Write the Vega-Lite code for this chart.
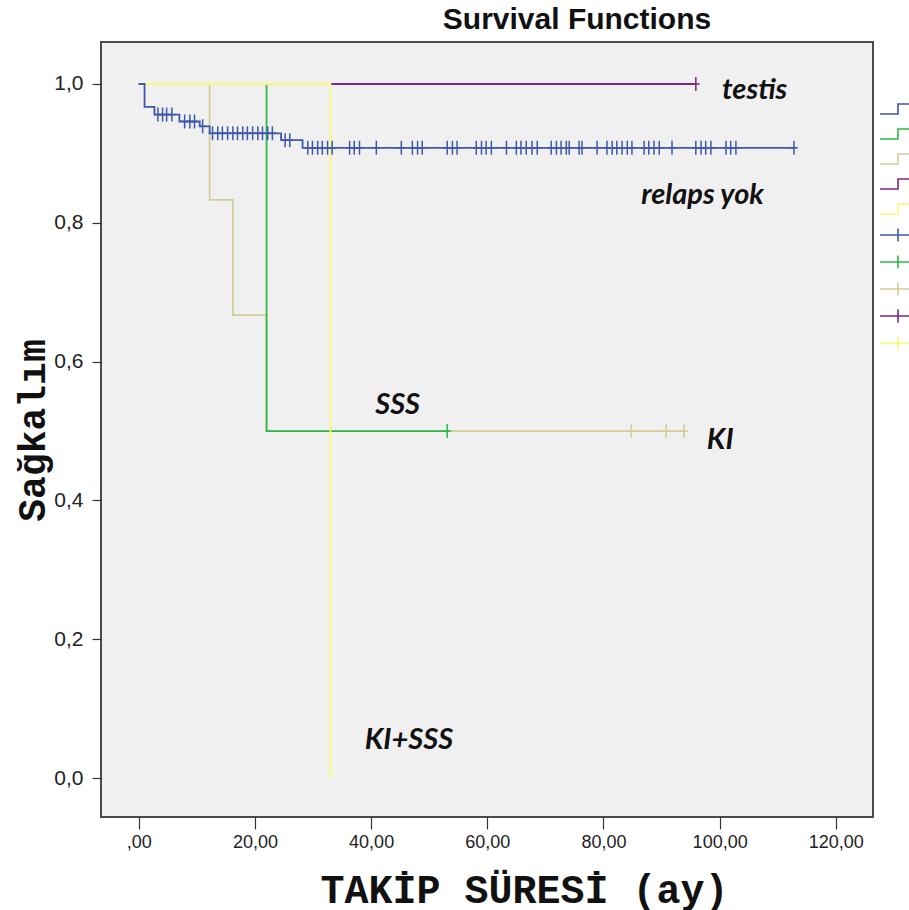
{
  "$schema": "https://vega.github.io/schema/vega-lite/v6.json",
  "autosize": {"type": "none"},
  "width": 772,
  "height": 775,
  "padding": {"left": 101, "top": 42, "right": 36, "bottom": 93},
  "background": "white",
  "title": {
    "text": "Survival Functions",
    "font": "Liberation Sans",
    "fontSize": 30,
    "fontWeight": "bold",
    "color": "#111111",
    "anchor": "middle",
    "dx": 90,
    "dy": 29,
    "offset": 12,
    "baseline": "alphabetic"
  },
  "config": {
    "view": {"fill": "#f0f0f0", "stroke": "#4a4a4a", "strokeWidth": 2},
    "axis": {
      "domain": false,
      "grid": false,
      "tickColor": "#333333",
      "tickWidth": 1.2,
      "labelFont": "Liberation Sans",
      "labelColor": "#222222",
      "titleColor": "#111111"
    },
    "legend": {
      "orient": "none",
      "legendX": 791,
      "legendY": 61,
      "title": null,
      "padding": 0,
      "symbolSize": 100,
      "symbolStrokeWidth": 1.6,
      "rowPadding": 7,
      "labelFontSize": 12,
      "labelOffset": 22,
      "labelColor": "#222222"
    }
  },
  "datasets": {
    "curves": [
      {"key": "KI", "t": 0, "s": 1},
      {"key": "KI", "t": 12.2, "s": 0.833},
      {"key": "KI", "t": 16.2, "s": 0.667},
      {"key": "KI", "t": 22.0, "s": 0.5},
      {"key": "KI", "t": 93.9, "s": 0.5},
      {"key": "SSS", "t": 0, "s": 1},
      {"key": "SSS", "t": 22.0, "s": 0.5},
      {"key": "SSS", "t": 53.1, "s": 0.5},
      {"key": "testis", "t": 0, "s": 1},
      {"key": "testis", "t": 95.9, "s": 1},
      {"key": "KI+SSS", "t": 0, "s": 1},
      {"key": "KI+SSS", "t": 33.0, "s": 0},
      {"key": "relaps yok", "t": 0, "s": 1},
      {"key": "relaps yok", "t": 1.0, "s": 0.967},
      {"key": "relaps yok", "t": 2.7, "s": 0.956},
      {"key": "relaps yok", "t": 7.0, "s": 0.946},
      {"key": "relaps yok", "t": 10.5, "s": 0.939},
      {"key": "relaps yok", "t": 12.2, "s": 0.929},
      {"key": "relaps yok", "t": 24.5, "s": 0.919},
      {"key": "relaps yok", "t": 28.2, "s": 0.908},
      {"key": "relaps yok", "t": 113.0, "s": 0.908}
    ],
    "censored": [
      {"key": "KI-censored", "t": 84.8, "s": 0.5},
      {"key": "KI-censored", "t": 90.8, "s": 0.5},
      {"key": "KI-censored", "t": 93.9, "s": 0.5},
      {"key": "SSS-censored", "t": 53.1, "s": 0.5},
      {"key": "testis-censored", "t": 95.9, "s": 1},
      {"key": "relaps yok-censored", "t": 3.3, "s": 0.956},
      {"key": "relaps yok-censored", "t": 4.1, "s": 0.956},
      {"key": "relaps yok-censored", "t": 4.8, "s": 0.956},
      {"key": "relaps yok-censored", "t": 5.7, "s": 0.956},
      {"key": "relaps yok-censored", "t": 7.9, "s": 0.946},
      {"key": "relaps yok-censored", "t": 8.8, "s": 0.946},
      {"key": "relaps yok-censored", "t": 9.6, "s": 0.946},
      {"key": "relaps yok-censored", "t": 11.0, "s": 0.939},
      {"key": "relaps yok-censored", "t": 12.7, "s": 0.929},
      {"key": "relaps yok-censored", "t": 13.6, "s": 0.929},
      {"key": "relaps yok-censored", "t": 14.4, "s": 0.929},
      {"key": "relaps yok-censored", "t": 15.3, "s": 0.929},
      {"key": "relaps yok-censored", "t": 16.2, "s": 0.929},
      {"key": "relaps yok-censored", "t": 17.0, "s": 0.929},
      {"key": "relaps yok-censored", "t": 17.9, "s": 0.929},
      {"key": "relaps yok-censored", "t": 18.7, "s": 0.929},
      {"key": "relaps yok-censored", "t": 19.6, "s": 0.929},
      {"key": "relaps yok-censored", "t": 20.5, "s": 0.929},
      {"key": "relaps yok-censored", "t": 21.3, "s": 0.929},
      {"key": "relaps yok-censored", "t": 22.2, "s": 0.929},
      {"key": "relaps yok-censored", "t": 23.0, "s": 0.929},
      {"key": "relaps yok-censored", "t": 25.2, "s": 0.919},
      {"key": "relaps yok-censored", "t": 26.0, "s": 0.919},
      {"key": "relaps yok-censored", "t": 29.1, "s": 0.908},
      {"key": "relaps yok-censored", "t": 29.9, "s": 0.908},
      {"key": "relaps yok-censored", "t": 30.8, "s": 0.908},
      {"key": "relaps yok-censored", "t": 31.6, "s": 0.908},
      {"key": "relaps yok-censored", "t": 32.5, "s": 0.908},
      {"key": "relaps yok-censored", "t": 33.3, "s": 0.908},
      {"key": "relaps yok-censored", "t": 36.3, "s": 0.908},
      {"key": "relaps yok-censored", "t": 37.1, "s": 0.908},
      {"key": "relaps yok-censored", "t": 38.0, "s": 0.908},
      {"key": "relaps yok-censored", "t": 40.9, "s": 0.908},
      {"key": "relaps yok-censored", "t": 45.2, "s": 0.908},
      {"key": "relaps yok-censored", "t": 47.1, "s": 0.908},
      {"key": "relaps yok-censored", "t": 48.0, "s": 0.908},
      {"key": "relaps yok-censored", "t": 48.8, "s": 0.908},
      {"key": "relaps yok-censored", "t": 53.1, "s": 0.908},
      {"key": "relaps yok-censored", "t": 54.0, "s": 0.908},
      {"key": "relaps yok-censored", "t": 54.8, "s": 0.908},
      {"key": "relaps yok-censored", "t": 58.1, "s": 0.908},
      {"key": "relaps yok-censored", "t": 59.0, "s": 0.908},
      {"key": "relaps yok-censored", "t": 59.8, "s": 0.908},
      {"key": "relaps yok-censored", "t": 60.7, "s": 0.908},
      {"key": "relaps yok-censored", "t": 63.3, "s": 0.908},
      {"key": "relaps yok-censored", "t": 65.0, "s": 0.908},
      {"key": "relaps yok-censored", "t": 65.8, "s": 0.908},
      {"key": "relaps yok-censored", "t": 66.7, "s": 0.908},
      {"key": "relaps yok-censored", "t": 67.7, "s": 0.908},
      {"key": "relaps yok-censored", "t": 68.6, "s": 0.908},
      {"key": "relaps yok-censored", "t": 71.0, "s": 0.908},
      {"key": "relaps yok-censored", "t": 71.9, "s": 0.908},
      {"key": "relaps yok-censored", "t": 72.7, "s": 0.908},
      {"key": "relaps yok-censored", "t": 73.6, "s": 0.908},
      {"key": "relaps yok-censored", "t": 74.1, "s": 0.908},
      {"key": "relaps yok-censored", "t": 75.8, "s": 0.908},
      {"key": "relaps yok-censored", "t": 76.3, "s": 0.908},
      {"key": "relaps yok-censored", "t": 78.9, "s": 0.908},
      {"key": "relaps yok-censored", "t": 80.6, "s": 0.908},
      {"key": "relaps yok-censored", "t": 81.5, "s": 0.908},
      {"key": "relaps yok-censored", "t": 82.3, "s": 0.908},
      {"key": "relaps yok-censored", "t": 83.2, "s": 0.908},
      {"key": "relaps yok-censored", "t": 84.1, "s": 0.908},
      {"key": "relaps yok-censored", "t": 84.9, "s": 0.908},
      {"key": "relaps yok-censored", "t": 87.0, "s": 0.908},
      {"key": "relaps yok-censored", "t": 87.8, "s": 0.908},
      {"key": "relaps yok-censored", "t": 88.7, "s": 0.908},
      {"key": "relaps yok-censored", "t": 89.6, "s": 0.908},
      {"key": "relaps yok-censored", "t": 91.8, "s": 0.908},
      {"key": "relaps yok-censored", "t": 95.9, "s": 0.908},
      {"key": "relaps yok-censored", "t": 96.8, "s": 0.908},
      {"key": "relaps yok-censored", "t": 97.6, "s": 0.908},
      {"key": "relaps yok-censored", "t": 98.5, "s": 0.908},
      {"key": "relaps yok-censored", "t": 101.1, "s": 0.908},
      {"key": "relaps yok-censored", "t": 101.9, "s": 0.908},
      {"key": "relaps yok-censored", "t": 102.8, "s": 0.908},
      {"key": "relaps yok-censored", "t": 112.8, "s": 0.908}
    ],
    "labels": [
      {"label": "testis", "t": 100.4, "s": 0.991},
      {"label": "relaps yok", "t": 86.5, "s": 0.84},
      {"label": "SSS", "t": 40.7, "s": 0.5375},
      {"label": "KI", "t": 97.8, "s": 0.487},
      {"label": "KI+SSS", "t": 38.9, "s": 0.0548}
    ]
  },
  "encoding": {
    "x": {
      "field": "t",
      "type": "quantitative",
      "scale": {"domain": [-6.5, 126.4], "nice": false, "zero": false},
      "axis": {
        "values": [0, 20, 40, 60, 80, 100, 120],
        "labelExpr": "datum.value == 0 ? ',00' : replace(format(datum.value, '.2f'), '.', ',')",
        "labelFontSize": 18,
        "tickSize": 12,
        "labelPadding": 4,
        "title": "TAKİP SÜRESİ (ay)",
        "titleFont": "Liberation Mono",
        "titleFontSize": 40,
        "titleFontWeight": "bold",
        "titleX": 423,
        "titleY": 85,
        "titleAlign": "center",
        "titleBaseline": "alphabetic"
      }
    },
    "y": {
      "field": "s",
      "type": "quantitative",
      "scale": {"domain": [-0.056, 1.0605], "nice": false, "zero": false},
      "axis": {
        "values": [0, 0.2, 0.4, 0.6, 0.8, 1],
        "labelExpr": "replace(format(datum.value, '.1f'), '.', ',')",
        "labelFontSize": 21,
        "tickSize": 9,
        "labelPadding": 9,
        "title": "Sağkalım",
        "titleFont": "Liberation Mono",
        "titleFontSize": 38,
        "titleFontWeight": "bold",
        "titleAngle": -90,
        "titleX": -68,
        "titleY": 388,
        "titleAlign": "center",
        "titleBaseline": "middle"
      }
    },
    "color": {
      "field": "key",
      "type": "nominal",
      "scale": {
        "domain": ["relaps yok", "SSS", "KI", "testis", "KI+SSS", "relaps yok-censored", "SSS-censored", "KI-censored", "testis-censored", "KI+SSS-censored"],
        "range": ["#3e58ac", "#2eb848", "#d3ce97", "#7c287d", "#fbf873", "#3e58ac", "#2eb848", "#d3ce97", "#7c287d", "#fbf873"]
      },
      "legend": {
        "symbolType": "M-3.6,1L0,1L0,-1L3.6,-1",
        "encode": {
          "symbols": {
            "update": {
              "shape": {"signal": "indexof(datum.value, 'censored') >= 0 ? 'M-3.6,0L3.6,0M0,-1.3L0,1.3' : 'M-3.6,1L0,1L0,-1L3.6,-1'"},
              "fill": {"value": "transparent"},
              "strokeWidth": {"value": 1.6}
            }
          }
        }
      }
    }
  },
  "layer": [
    {
      "data": {"name": "curves"},
      "mark": {"type": "line", "interpolate": "step-after", "strokeWidth": 1.8}
    },
    {
      "data": {"name": "censored"},
      "mark": {"type": "point", "shape": "M0,-1L0,1M-0.55,0L0.55,0", "filled": false, "size": 196, "strokeWidth": 1.5, "opacity": 1}
    },
    {
      "data": {"name": "labels"},
      "mark": {"type": "text", "align": "left", "baseline": "middle", "font": "Lato", "fontStyle": "italic", "fontWeight": "bold", "fontSize": 29, "color": "#111111"},
      "encoding": {
        "text": {"field": "label", "type": "nominal"},
        "color": {"value": "#111111"}
      }
    }
  ]
}
